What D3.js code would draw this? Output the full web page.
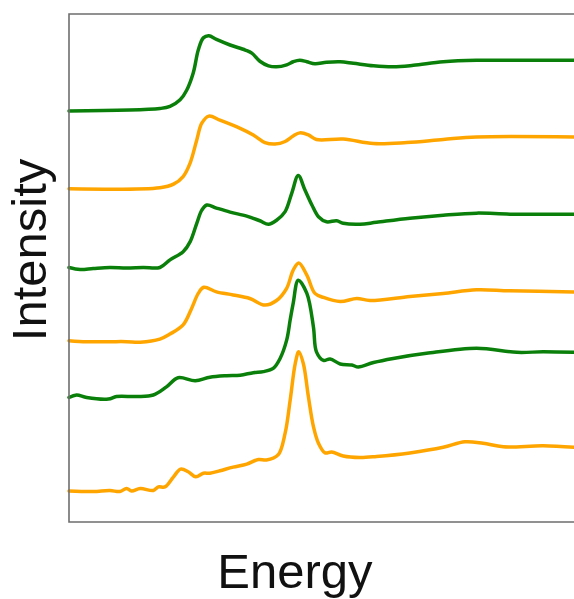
<!DOCTYPE html>
<html>
<head>
<meta charset="utf-8">
<script src="https://cdn.jsdelivr.net/npm/d3@7"></script>
<style>
  body { margin: 0; background: #fff; }
  svg { display: block; }
</style>
</head>
<body>
<svg id="chart"></svg>
<script>
const width = 574;
const height = 599;
const margin = { top: 14, left: 69, bottom: 77 };

// stacked spectra, top to bottom; [energy (a.u.), intensity (a.u., offset included)]
const spectrumA = [
  [0, 8.09], [18.0, 8.14], [20.0, 8.18], [22.0, 8.31], [23.3, 8.5], [24.6, 8.84],
  [25.6, 9.29], [26.6, 9.53], [27.7, 9.57], [29.2, 9.5], [31.9, 9.39], [34.9, 9.29],
  [36.2, 9.23], [37.8, 9.07], [39.5, 8.98], [41.1, 8.96], [43.1, 9.0], [44.4, 9.06],
  [45.7, 9.09], [47.1, 9.06], [48.7, 9.02], [51.0, 9.05], [53.7, 9.06], [56.3, 9.03],
  [60.3, 8.98], [64.2, 8.96], [68.2, 8.99], [74.1, 9.06], [80.7, 9.09], [87.3, 9.09],
  [100, 9.09],
];
const spectrumB = [
  [0, 6.56], [18.0, 6.58], [20.7, 6.65], [22.6, 6.8], [24.0, 7.07], [25.3, 7.52],
  [26.3, 7.85], [27.7, 7.99], [29.9, 7.91], [33.9, 7.75], [36.5, 7.62], [38.8, 7.47],
  [40.8, 7.44], [42.8, 7.49], [44.4, 7.6], [45.7, 7.66], [47.4, 7.62], [49.0, 7.53],
  [54.3, 7.54], [60.3, 7.45], [66.9, 7.47], [74.1, 7.53], [80.7, 7.58], [100, 7.58],
];
const spectrumC = [
  [0, 5.01], [2.2, 4.97], [4.8, 4.99], [8.1, 5.01], [11.4, 5.0], [14.7, 5.01],
  [18.0, 5.01], [20.0, 5.16], [22.6, 5.32], [24.0, 5.52], [25.3, 5.88], [26.3, 6.14],
  [27.3, 6.24], [29.2, 6.18], [31.9, 6.1], [35.2, 6.02], [37.8, 5.93], [39.5, 5.86],
  [41.1, 5.94], [42.8, 6.11], [44.1, 6.47], [45.4, 6.82], [46.7, 6.54], [48.1, 6.24],
  [49.4, 6.01], [51.0, 5.91], [53.0, 5.93], [54.3, 5.88], [57.6, 5.86], [60.9, 5.9],
  [67.5, 5.98], [74.1, 6.04], [80.7, 6.08], [87.3, 6.06], [100, 6.06],
];
const spectrumD = [
  [0, 3.57], [3.5, 3.55], [8.1, 3.55], [11.4, 3.55], [14.1, 3.54], [18.0, 3.6],
  [20.0, 3.7], [22.6, 3.88], [24.3, 4.21], [25.6, 4.5], [26.7, 4.62], [29.2, 4.53],
  [32.5, 4.47], [35.8, 4.4], [38.8, 4.27], [41.1, 4.36], [43.1, 4.6], [44.4, 4.96],
  [45.5, 5.1], [47.1, 4.86], [48.7, 4.5], [50.4, 4.42], [53.7, 4.34], [57.0, 4.4],
  [59.6, 4.36], [67.5, 4.44], [74.1, 4.5], [80.7, 4.57], [87.3, 4.55], [100, 4.53],
];
const spectrumE = [
  [0, 2.45], [1.5, 2.5], [3.5, 2.45], [7.8, 2.42], [9.4, 2.47], [13.4, 2.47],
  [16.7, 2.5], [19.3, 2.66], [21.6, 2.84], [25.0, 2.78], [27.9, 2.85], [31.2, 2.88],
  [33.9, 2.89], [36.5, 2.94], [38.5, 2.96], [40.5, 3.03], [41.8, 3.22], [43.1, 3.58],
  [43.8, 3.98], [44.4, 4.31], [45.4, 4.76], [47.1, 4.5], [48.4, 3.84], [49.0, 3.35],
  [50.4, 3.18], [51.7, 3.21], [53.7, 3.11], [56.0, 3.09], [57.3, 3.05], [60.3, 3.14],
  [64.2, 3.22], [70.8, 3.32], [80.7, 3.42], [88.7, 3.34], [93.9, 3.35], [100, 3.34],
];
const spectrumF = [
  [0, 0.61], [4.8, 0.6], [8.1, 0.62], [10.1, 0.6], [11.4, 0.66], [12.4, 0.61],
  [14.1, 0.66], [16.7, 0.62], [17.7, 0.69], [19.0, 0.69], [20.7, 0.89], [22.1, 1.04],
  [23.6, 0.99], [25.1, 0.89], [26.6, 0.96], [27.9, 0.96], [29.9, 1.01], [32.5, 1.08],
  [35.2, 1.14], [37.5, 1.23], [39.1, 1.22], [41.4, 1.32], [42.8, 1.75], [43.8, 2.4],
  [44.8, 3.12], [45.5, 3.35], [46.4, 3.12], [47.4, 2.47], [48.4, 1.88], [49.4, 1.55],
  [50.7, 1.36], [52.0, 1.38], [54.3, 1.3], [57.6, 1.27], [60.9, 1.29], [67.5, 1.36],
  [74.1, 1.47], [78.4, 1.58], [82.0, 1.55], [86.0, 1.48], [93.9, 1.5], [100, 1.47],
];

const spectra = [spectrumA, spectrumB, spectrumC, spectrumD, spectrumE, spectrumF];
const colors = ["#0a800a", "#ffa500", "#0a800a", "#ffa500", "#0a800a", "#ffa500"];

const svg = d3.select("#chart").attr("width", width).attr("height", height);

// plot area runs past the right edge of the window, like the cropped original
const xScale = d3.scaleLinear().domain([0, 100]).range([margin.left, width]);
const yScale = d3
  .scaleLinear()
  .domain([0, 10])
  .range([height - margin.bottom, margin.top]);

const line = d3
  .line()
  .x((d) => xScale(d[0]))
  .y((d) => yScale(d[1]))
  .curve(d3.curveCatmullRom.alpha(0.5));

svg
  .selectAll("path.spectrum")
  .data(spectra)
  .enter()
  .append("path")
  .attr("class", "spectrum")
  .attr("d", line)
  .attr("fill", "none")
  .attr("stroke", (d, i) => colors[i])
  .attr("stroke-width", 3.5)
  .attr("stroke-linejoin", "round")
  .attr("stroke-linecap", "round");

// frame (no ticks), open on the right
const x0 = xScale(0);
const x1 = width + 20;
const yTop = yScale(10);
const yBot = yScale(0);
svg
  .append("path")
  .attr("d", `M${x1},${yTop}H${x0}V${yBot}H${x1}`)
  .attr("fill", "none")
  .attr("stroke", "#6e6e6e")
  .attr("stroke-width", 1.6);

// axis labels
svg
  .append("text")
  .attr("x", 295)
  .attr("y", 588)
  .style("text-anchor", "middle")
  .style("font-family", "Liberation Sans, Arial, sans-serif")
  .style("font-size", "49px")
  .style("fill", "#111")
  .text("Energy");

svg
  .append("text")
  .attr("transform", "translate(46, 250) rotate(-90)")
  .style("text-anchor", "middle")
  .style("font-family", "Liberation Sans, Arial, sans-serif")
  .style("font-size", "49px")
  .style("fill", "#111")
  .text("Intensity");
</script>
</body>
</html>
